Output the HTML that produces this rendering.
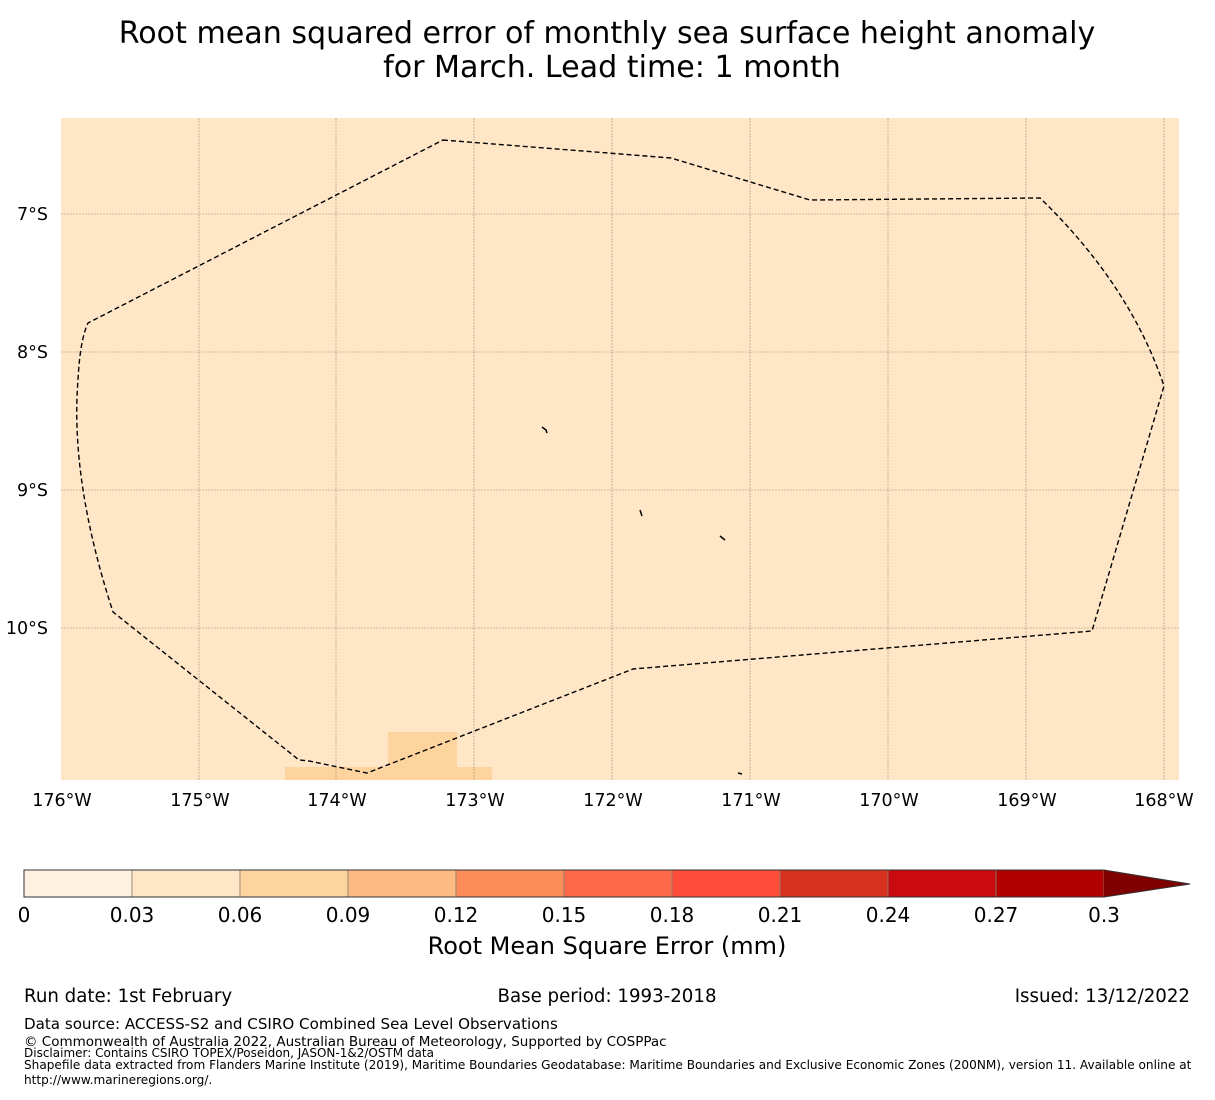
<!DOCTYPE html>
<html><head><meta charset="utf-8"><style>
body{margin:0;background:#fff;}
svg text{font-family:"DejaVu Sans","Liberation Sans",sans-serif;fill:#000;}
</style></head><body>
<svg width="1215" height="1095" viewBox="0 0 1215 1095" xmlns="http://www.w3.org/2000/svg">
<text x="607" y="43" font-size="30.1" text-anchor="middle">Root mean squared error of monthly sea surface height anomaly</text>
<text x="612" y="77" font-size="30.1" text-anchor="middle">for March. Lead time: 1 month</text>
<rect x="61" y="118" width="1118" height="662" fill="#fee6c7"/>
<rect x="285" y="767" width="207" height="13" fill="#fdd49e"/>
<rect x="388" y="732" width="69" height="35" fill="#fdd49e"/>
<g stroke="#8a7a6a" stroke-width="0.6" stroke-dasharray="2,1" opacity="0.8">
<line x1="199" y1="118" x2="199" y2="780"/><line x1="336" y1="118" x2="336" y2="780"/>
<line x1="474" y1="118" x2="474" y2="780"/><line x1="612" y1="118" x2="612" y2="780"/>
<line x1="750" y1="118" x2="750" y2="780"/><line x1="888" y1="118" x2="888" y2="780"/>
<line x1="1026" y1="118" x2="1026" y2="780"/><line x1="1164" y1="118" x2="1164" y2="780"/>
<line x1="61" y1="214" x2="1179" y2="214"/><line x1="61" y1="352" x2="1179" y2="352"/>
<line x1="61" y1="490" x2="1179" y2="490"/><line x1="61" y1="628" x2="1179" y2="628"/>
</g>
<path d="M443,140 L671,158 L810,200 L1040,198 Q1130,285 1164,386 L1092,631 L633,669 L367,773 L309,761 L299,760 L113,612 Q70,480 78,380 Q80,340 88,323 Z" fill="none" stroke="#000" stroke-width="1.4" stroke-dasharray="5,3"/>
<g stroke="#000" stroke-width="1.5" fill="none">
<path d="M542,427 L546,430 L547,433"/><path d="M640,510 L642,516"/><path d="M720,536 L725,540"/><path d="M738,773 L742,774"/>
</g>
<g font-size="17.5">
<text x="48" y="220" text-anchor="end">7°S</text><text x="48" y="358" text-anchor="end">8°S</text>
<text x="48" y="496" text-anchor="end">9°S</text><text x="48" y="634" text-anchor="end">10°S</text>
<g text-anchor="middle">
<text x="62" y="806">176°W</text><text x="200" y="806">175°W</text><text x="337" y="806">174°W</text>
<text x="475" y="806">173°W</text><text x="613" y="806">172°W</text><text x="751" y="806">171°W</text>
<text x="889" y="806">170°W</text><text x="1027" y="806">169°W</text><text x="1164" y="806">168°W</text>
</g></g>
<g stroke="#8a7f70" stroke-width="0.8">
<rect x="24" y="870" width="108" height="27" fill="#fff2e1"/>
<rect x="132" y="870" width="108" height="27" fill="#fee6c7"/>
<rect x="240" y="870" width="108" height="27" fill="#fdd49e"/>
<rect x="348" y="870" width="108" height="27" fill="#fdbb84"/>
<rect x="456" y="870" width="108" height="27" fill="#fc8d59"/>
<rect x="564" y="870" width="108" height="27" fill="#fe6a48"/>
<rect x="672" y="870" width="108" height="27" fill="#ff4d3a"/>
<rect x="780" y="870" width="108" height="27" fill="#d7301f"/>
<rect x="888" y="870" width="108" height="27" fill="#c90a0e"/>
<rect x="996" y="870" width="108" height="27" fill="#b00000"/>
</g>
<polygon points="1104,870 1190,884 1104,897" fill="#7f0000"/>
<path d="M24,870 L1104,870 L1190,884 L1104,897 L24,897 Z" fill="none" stroke="#333" stroke-width="1"/>
<g font-size="20" text-anchor="middle">
<text x="24" y="922">0</text><text x="132" y="922">0.03</text><text x="240" y="922">0.06</text>
<text x="348" y="922">0.09</text><text x="456" y="922">0.12</text><text x="564" y="922">0.15</text>
<text x="672" y="922">0.18</text><text x="780" y="922">0.21</text><text x="888" y="922">0.24</text>
<text x="996" y="922">0.27</text><text x="1104" y="922">0.3</text>
</g>
<text x="607" y="954" font-size="24" text-anchor="middle">Root Mean Square Error (mm)</text>
<text x="24" y="1002" font-size="18.2">Run date: 1st February</text>
<text x="607" y="1002" font-size="18.2" text-anchor="middle">Base period: 1993-2018</text>
<text x="1190" y="1002" font-size="18.2" text-anchor="end">Issued: 13/12/2022</text>
<text x="24" y="1029" font-size="15.1">Data source: ACCESS-S2 and CSIRO Combined Sea Level Observations</text>
<text x="24" y="1046" font-size="13.5">© Commonwealth of Australia 2022, Australian Bureau of Meteorology, Supported by COSPPac</text>
<text x="24" y="1057" font-size="12">Disclaimer: Contains CSIRO TOPEX/Poseidon, JASON-1&amp;2/OSTM data</text>
<text x="24" y="1069" font-size="12.1">Shapefile data extracted from Flanders Marine Institute (2019), Maritime Boundaries Geodatabase: Maritime Boundaries and Exclusive Economic Zones (200NM), version 11. Available online at</text>
<text x="24" y="1084" font-size="12.1">http://www.marineregions.org/.</text>
</svg>
</body></html>
